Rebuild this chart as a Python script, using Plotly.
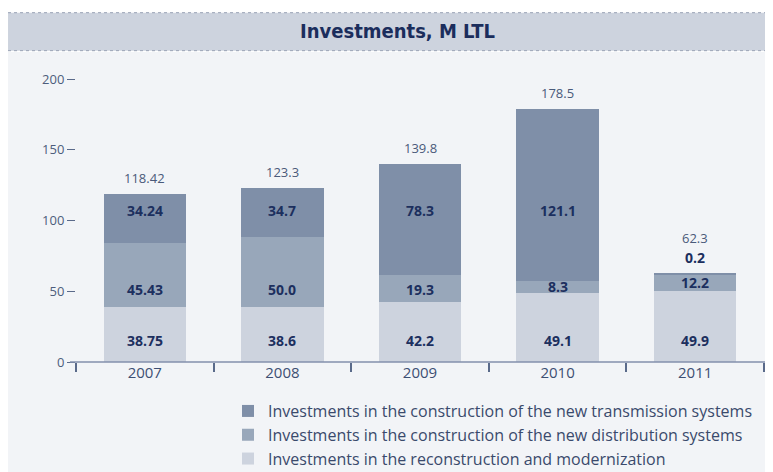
import plotly.graph_objects as go

years = ["2007", "2008", "2009", "2010", "2011"]
reconstruction = [38.75, 38.6, 42.2, 49.1, 49.9]
distribution = [45.43, 50.0, 19.3, 8.3, 12.2]
transmission = [34.24, 34.7, 78.3, 121.1, 0.2]
totals = [118.42, 123.3, 139.8, 178.5, 62.3]
total_labels = ["118.42", "123.3", "139.8", "178.5", "62.3"]
recon_labels = ["38.75", "38.6", "42.2", "49.1", "49.9"]
distr_labels = ["45.43", "50.0", "19.3", "8.3", "12.2"]
trans_labels = ["34.24", "34.7", "78.3", "121.1", "0.2"]
series_names = [
    "Investments in the reconstruction and modernization",
    "Investments in the construction of the new distribution systems",
    "Investments in the construction of the new transmission systems",
]
y_ticks = [0, 50, 100, 150, 200]

# style
COLORS = ["#cdd3de", "#98a7ba", "#7f8fa8"]
LABEL_ROWS = [15.5, 51.5, 107]  # preferred label heights per layer
FONT = "Open Sans, Lato, sans-serif"
NAVY = "#1c2f5e"
GREY = "#4a5a7a"

fig = go.Figure()
series = [reconstruction, distribution, transmission]
labels = [recon_labels, distr_labels, trans_labels]
for vals, name, col in zip(series, series_names, COLORS):
    fig.add_trace(go.Bar(x=years, y=vals, name=name, marker=dict(color=col, line=dict(width=0)),
                         width=0.6, hoverinfo="skip"))

annotations = []
for i, yr in enumerate(years):
    base = 0.0
    extra = 0
    for layer, (vals, labs) in enumerate(zip(series, labels)):
        v = vals[i]
        lo, hi = base, base + v
        if v < 3:
            annotations.append(dict(x=i, y=hi, text="<b>%s</b>" % labs[i], showarrow=False,
                                    yshift=16, font=dict(size=14, color=NAVY, family=FONT)))
            extra = 20
        else:
            row = LABEL_ROWS[layer]
            if lo + 5 <= row <= hi - 5:
                yy = row
            else:
                yy = (lo + hi) / 2
            annotations.append(dict(x=i, y=yy, text="<b>%s</b>" % labs[i], showarrow=False,
                                    font=dict(size=14, color=NAVY, family=FONT)))
        base = hi
    annotations.append(dict(x=i, y=totals[i], text=total_labels[i], showarrow=False,
                            yshift=16 + extra, font=dict(size=13, color=GREY, family=FONT)))

# title
annotations.append(dict(xref="paper", yref="paper", x=0.468, y=1.141, yanchor="middle",
                        text="<b>Investments, M LTL</b>",
                        showarrow=False, font=dict(size=20, color="#1b2d5c",
                                                   family="Liberation Sans Narrow, DejaVu Sans Condensed, Roboto, sans-serif")))

shapes = [
    dict(type="rect", xref="paper", yref="paper", x0=-0.0988, x1=1.03, y0=-0.4, y1=1.069,
         fillcolor="#f2f4f7", line=dict(width=0), layer="below"),
    dict(type="rect", xref="paper", yref="paper", x0=-0.0988, x1=1.03, y0=1.0735, y1=1.2045,
         fillcolor="#cdd3de", line=dict(width=0), layer="below"),
    dict(type="line", xref="paper", yref="paper", x0=-0.0988, x1=1.03, y0=1.2045, y1=1.2045,
         line=dict(color="#97a0b3", width=1, dash="dot")),
    dict(type="line", xref="paper", yref="paper", x0=-0.0988, x1=1.03, y0=1.0735, y1=1.0735,
         line=dict(color="#97a0b3", width=1, dash="dot")),
    dict(type="line", xref="paper", yref="paper", x0=-0.0087, x1=1.0087, y0=0, y1=0,
         line=dict(color="#8391ad", width=1.5)),
]

fig.update_layout(
    width=765, height=464,
    margin=dict(l=68, r=9, t=64, b=110, autoexpand=False),
    barmode="stack",
    paper_bgcolor="white",
    plot_bgcolor="rgba(0,0,0,0)",
    font=dict(family=FONT, color=GREY),
    showlegend=True,
    legend=dict(xref="container", yref="container", x=0.2876, y=0.168, xanchor="left", yanchor="top",
                traceorder="reversed",
                font=dict(size=16, color="#3a4a6c", family=FONT), bgcolor="rgba(0,0,0,0)",
                tracegroupgap=0, itemclick=False, itemdoubleclick=False),
    annotations=annotations,
    shapes=shapes,
    xaxis=dict(type="category", range=[-0.5, 4.5], tickson="boundaries", ticks="outside", ticklen=9,
               tickcolor="#5a6a8a", tickwidth=1.5, showline=False, showgrid=False, zeroline=False,
               automargin=False, tickangle=0,
               tickfont=dict(size=15, color="#3d4f73", family=FONT)),
    yaxis=dict(range=[0, 205], tickvals=y_ticks, ticks="outside", ticklen=8, tickcolor="#5a6a8a",
               showline=False, showgrid=False, zeroline=False, automargin=False,
               tickfont=dict(size=13, color="#4d5d7c", family=FONT)),
)

fig.write_html("out.html")
